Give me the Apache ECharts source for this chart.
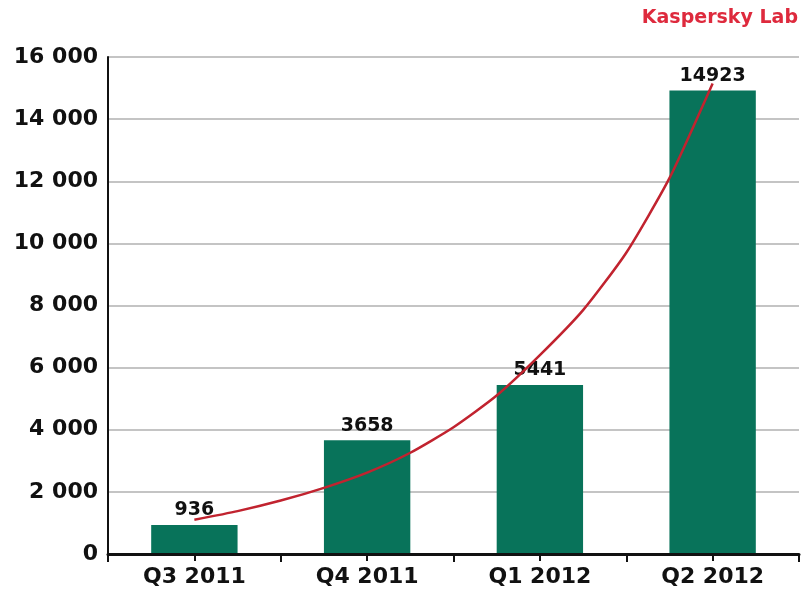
<!DOCTYPE html>
<html>
<head>
<meta charset="utf-8">
<script src="https://cdn.jsdelivr.net/npm/echarts@6/dist/echarts.min.js"></script>
<style>html,body{margin:0;padding:0;background:#fff}#c{width:811px;height:596px}</style>
</head>
<body>
<div id="c"></div>
<script>
var categories = ['Q3 2011', 'Q4 2011', 'Q1 2012', 'Q2 2012'];
var values = [936, 3658, 5441, 14923];
// trend curve: position in category units (0 = first category centre)
var trendAt = [0, 0.25, 0.5, 0.75, 1, 1.25, 1.5, 1.75, 2, 2.25, 2.5, 2.75, 3];
var trendValues = [1100, 1380, 1720, 2130, 2620, 3260, 4080, 5100, 6400, 7850, 9700, 12100, 15150];
var yTicks = [0, 2000, 4000, 6000, 8000, 10000, 12000, 14000, 16000];

var font = '"DejaVu Sans", "Liberation Sans", sans-serif';
var chart = echarts.init(document.getElementById('c'), null, {renderer: 'canvas'});
function fmt(v) { return String(v).replace(/\B(?=(\d{3})+(?!\d))/g, ' '); }

chart.setOption({
  animation: false,
  backgroundColor: '#ffffff',
  grid: {left: 108, right: 12, top: 57, bottom: 42},
  graphic: [{
    type: 'text', right: 13, top: 9,
    style: {text: 'Kaspersky Lab', fill: '#de2a3d', font: 'bold 19px ' + font}
  }],
  xAxis: [{
    type: 'category', data: categories,
    axisLine: {lineStyle: {color: '#111', width: 3}},
    axisTick: {show: true, length: 8, lineStyle: {color: '#111', width: 2}},
    axisLabel: {color: '#111', fontFamily: font, fontWeight: 'bold', fontSize: 22, margin: 12},
    z: 5
  }, {
    type: 'value', min: 0, max: 4, show: false
  }, {
    type: 'category', data: categories, position: 'bottom',
    axisLine: {show: false},
    axisTick: {show: true, alignWithLabel: true, length: 7, lineStyle: {color: '#111', width: 2}},
    axisLabel: {show: false}
  }],
  yAxis: {
    type: 'value', min: yTicks[0], max: yTicks[yTicks.length - 1], interval: 2000,
    axisLine: {show: true, lineStyle: {color: '#111', width: 2}},
    axisTick: {show: false},
    splitLine: {lineStyle: {color: '#c4c4c4', width: 2}},
    axisLabel: {color: '#111', fontFamily: font, fontWeight: 'bold', fontSize: 22, margin: 10, formatter: fmt}
  },
  series: [{
    type: 'bar', data: values, xAxisIndex: 0, barWidth: '50%',
    itemStyle: {color: '#08735a'},
    label: {show: true, position: 'top', distance: 5, color: '#111', fontFamily: font, fontWeight: 'bold', fontSize: 19}
  }, {
    type: 'line', xAxisIndex: 1, smooth: 0.2, symbol: 'none', z: 4,
    data: trendAt.map(function (t, i) { return [t + 0.5, trendValues[i]]; }),
    lineStyle: {color: '#c1232f', width: 2.5}
  }]
});
</script>
</body>
</html>
